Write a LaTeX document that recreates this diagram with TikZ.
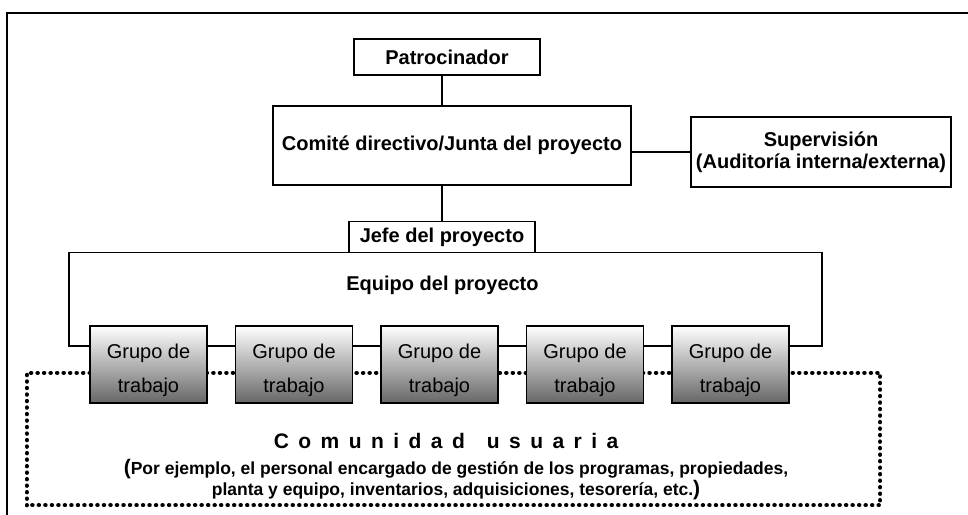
\documentclass[tikz,border=0pt]{standalone}
\usepackage{fontspec}
\setmainfont{Liberation Sans}
\begin{document}
\begin{tikzpicture}[x=1pt,y=-1pt,
  box/.style={draw, line width=1.3pt, rectangle, inner sep=0pt, align=center, font=\bfseries\fontsize{20}{22}\selectfont},
  conn/.style={line width=1.3pt},
  grp/.style={draw, line width=1.3pt, top color=white, bottom color=black!60, minimum width=117pt, minimum height=77pt, inner sep=0pt},
  grptext/.style={inner sep=0pt, align=center, font=\fontsize{20}{34}\selectfont},
  area/.style={inner sep=0pt, rectangle},
  dotline/.style={line width=4.5pt, line cap=round, dash pattern=on 0.01pt off 6.5pt},
  plain/.style={inner sep=0pt, align=center},
  frame/.style={line width=2.5pt}
]
\useasboundingbox[fill=white] (0,0) rectangle (968,514);
\clip (0,0) rectangle (968,514);

% outer frame (open at right and bottom)
\draw[frame] (7,530) -- (7,13) -- (990,13);

% community dotted region
\node[area, minimum width=853pt, minimum height=132pt] (comu) at (453.5,439) {};
\draw[dotline] (comu.south west) -- (comu.north west) -- (comu.north east) -- (comu.south east) -- cycle;

% top boxes
\node[box, minimum width=186pt, minimum height=36pt] (patro) at (447,57) {Patrocinador};
\node[box, minimum width=358pt, minimum height=79pt] (comite) at (452,145.5) {Comité directivo/Junta del proyecto};
\node[box, minimum width=260pt, minimum height=70pt] (superv) at (821,152) {Supervisión\\(Auditoría interna/externa)};
\node[box, minimum width=186pt, minimum height=31pt] (jefe) at (442,237.3) {Jefe del proyecto};

\node[plain, font=\bfseries\fontsize{20}{22}\selectfont] (equipo) at (442.5,285) {Equipo del proyecto};

% work groups
\foreach \i in {1,...,5}{
  \node[grp] (g\i) at ({148.5+145.5*(\i-1)},364.5) {};
  \node[grptext, yshift=-5.5pt] (t\i) at (g\i) {Grupo de\\trabajo};
}

% connectors
\coordinate (bus) at (0,346);
\coordinate (eqLb) at (69,346);
\coordinate (eqLt) at (69,252.7);
\coordinate (eqRt) at (822,252.7);
\coordinate (eqRb) at (822,346);
\draw[conn] (patro.south -| jefe) -- (comite.north -| jefe);
\draw[conn] (comite.south -| jefe) -- (jefe.north);
\draw[conn] (superv.west) -- (superv.west -| comite.east);
\draw[conn] (g1.west |- bus) -- (eqLb) -- (eqLt) -- (eqRt) -- (eqRb) -- (g5.east |- bus);
\foreach \i/\j in {1/2,2/3,3/4,4/5}{
  \draw[conn] (g\i.east |- bus) -- (g\j.west |- bus);
}

% community texts
\node[plain, font=\bfseries\fontsize{21}{21}\selectfont] (comutitle) at (446,441)
  {\addfontfeatures{LetterSpace=45}Comunidad\hspace{22pt}usuaria};
\node[plain, font=\bfseries\fontsize{17.5}{21}\selectfont] (ejemplo) at (456,480)
  {{\fontsize{21}{21}\selectfont(}Por ejemplo, el personal encargado de gestión de los programas, propiedades,\\planta y equipo, inventarios, adquisiciones, tesorería, etc.{\fontsize{21}{21}\selectfont)}};
\end{tikzpicture}
\end{document}
